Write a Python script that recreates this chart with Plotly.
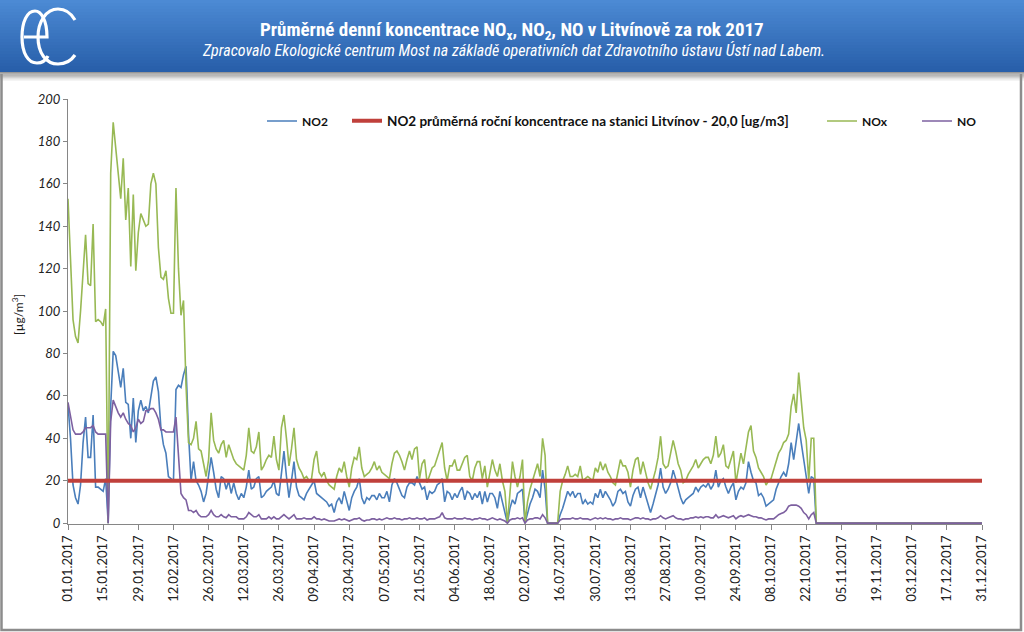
import plotly.graph_objects as go
import pandas as pd

# ---------------- DATA (daily averages 2017, µg/m3) ----------------
DATES = pd.date_range("2017-01-01", "2017-12-31", freq="D")

NOX = [
    153, 125, 96, 88, 85, 100, 120, 136, 113, 112,
    141, 95, 96, 95, 93, 101, 0, 165, 189, 178,
    165, 153, 172, 143, 158, 121, 155, 119, 137, 146,
    143, 140, 141, 160, 165, 160, 130, 116, 115, 119,
    106, 99, 99, 158, 120, 98, 105, 65, 38, 37,
    40, 48, 35, 34, 28, 22, 30, 52, 39, 35,
    33, 37, 39, 31, 37, 33, 30, 28, 27, 26,
    25, 32, 45, 34, 33, 36, 43, 25, 27, 30,
    32, 31, 41, 30, 25, 45, 51, 40, 27, 35,
    45, 30, 26, 24, 21, 22, 20, 21, 30, 34,
    24, 22, 24, 20, 18, 17, 16, 22, 26, 24,
    29, 22, 17, 26, 31, 30, 36, 26, 22, 23,
    24, 26, 29, 25, 27, 24, 23, 22, 21, 28,
    33, 34, 32, 29, 25, 30, 34, 30, 35, 36,
    21, 28, 30, 19, 23, 26, 27, 31, 34, 38,
    26, 20, 27, 27, 30, 25, 25, 28, 31, 32,
    22, 20, 26, 29, 29, 21, 27, 17, 23, 30,
    25, 22, 28, 20, 15, 0, 14, 29, 22, 17,
    22, 30, 0, 10, 16, 20, 25, 28, 22, 40,
    32, 0, 0, 0, 0, 0, 15, 20, 23, 27,
    22, 22, 23, 22, 27, 20, 21, 22, 21, 20,
    26, 24, 29, 25, 28, 24, 22, 19, 18, 24,
    30, 27, 27, 24, 17, 25, 30, 31, 23, 29,
    24, 19, 16, 20, 25, 31, 41, 28, 26, 27,
    33, 39, 34, 28, 25, 19, 20, 23, 25, 27,
    30, 26, 28, 30, 31, 31, 28, 32, 41, 31,
    33, 37, 27, 26, 30, 34, 19, 27, 33, 28,
    36, 43, 46, 34, 31, 26, 24, 22, 18, 20,
    21, 25, 28, 33, 35, 38, 39, 42, 55, 61,
    52, 71, 58, 45, 39, 20, 40, 40, 0, 0,
    0, 0, 0, 0, 0, 0, 0, 0, 0, 0,
    0, 0, 0, 0, 0, 0, 0, 0, 0, 0,
    0, 0, 0, 0, 0, 0, 0, 0, 0, 0,
    0, 0, 0, 0, 0, 0, 0, 0, 0, 0,
    0, 0, 0, 0, 0, 0, 0, 0, 0, 0,
    0, 0, 0, 0, 0, 0, 0, 0, 0, 0,
    0, 0, 0, 0, 0,
]

NO2 = [
    56, 40, 18, 12, 9, 18, 38, 50, 31, 31,
    51, 17, 17, 16, 15, 21, 0, 55, 81, 79,
    72, 64, 73, 57, 56, 40, 59, 38, 53, 58,
    53, 55, 52, 60, 67, 69, 62, 45, 37, 33,
    22, 21, 20, 63, 65, 64, 70, 74, 42, 20,
    29, 20, 18, 15, 10, 14, 24, 31, 24, 16,
    12, 22, 21, 16, 20, 14, 19, 14, 11, 14,
    12, 17, 25, 16, 17, 21, 22, 12, 13, 15,
    16, 17, 20, 14, 13, 25, 34, 22, 12, 20,
    29, 17, 13, 12, 11, 14, 16, 18, 20, 14,
    13, 12, 11, 10, 8, 9, 5, 10, 12, 9,
    15, 11, 6, 12, 15, 17, 21, 12, 9, 12,
    11, 13, 13, 11, 14, 12, 12, 15, 10, 18,
    21, 19, 16, 13, 12, 17, 19, 19, 18, 22,
    19, 16, 17, 11, 15, 14, 15, 18, 19, 21,
    10, 15, 14, 11, 14, 12, 15, 17, 11, 15,
    14, 11, 14, 12, 15, 9, 15, 10, 14, 14,
    12, 7, 15, 10, 5, 0, 7, 11, 9, 14,
    15, 16, 0, 5, 9, 12, 16, 15, 12, 25,
    16, 0, 0, 0, 0, 0, 4, 7, 11, 15,
    13, 15, 12, 14, 14, 9, 11, 9, 10, 9,
    14, 12, 16, 12, 15, 13, 11, 8, 10, 15,
    16, 14, 15, 10, 8, 13, 16, 17, 12, 17,
    13, 9, 5, 9, 13, 18, 26, 17, 14, 16,
    19, 25, 21, 16, 12, 9, 11, 12, 13, 14,
    17, 15, 17, 18, 17, 19, 16, 18, 25, 17,
    20, 21, 17, 14, 17, 19, 11, 15, 17, 16,
    19, 29, 24, 20, 19, 13, 14, 12, 8, 9,
    10, 11, 16, 19, 22, 24, 22, 28, 38, 30,
    38, 47, 38, 31, 22, 14, 22, 21, 0, 0,
    0, 0, 0, 0, 0, 0, 0, 0, 0, 0,
    0, 0, 0, 0, 0, 0, 0, 0, 0, 0,
    0, 0, 0, 0, 0, 0, 0, 0, 0, 0,
    0, 0, 0, 0, 0, 0, 0, 0, 0, 0,
    0, 0, 0, 0, 0, 0, 0, 0, 0, 0,
    0, 0, 0, 0, 0, 0, 0, 0, 0, 0,
    0, 0, 0, 0, 0,
]

NO = [
    57, 50, 44, 42, 42, 42, 43, 45, 45, 45,
    46, 43, 42, 42, 42, 42, 0, 48, 58, 55,
    52, 50, 52, 49, 47, 46, 43, 45, 49, 47,
    48, 53, 53, 54, 54, 52, 49, 44, 44, 43,
    43, 43, 43, 50, 30, 14, 12, 11, 6, 6,
    5, 6, 4, 3, 3, 3, 4, 6, 4, 3,
    3, 4, 3, 2.5, 4, 3, 3, 3, 2, 2,
    2, 3, 5, 4, 3, 3, 4, 2, 2, 2,
    3, 2, 3, 2, 2, 3, 4, 3, 2, 3,
    4, 2, 2, 2, 2.5, 2, 2, 2, 3, 2,
    2, 1.5, 2, 1.5, 1, 1, 1, 1.5, 2, 1.5,
    2, 1.5, 1, 1.5, 2, 2, 2.5, 1.5, 1, 1.5,
    1.5, 2, 2, 1.5, 2, 1.5, 2, 2.5, 2, 2,
    2.5, 2, 2, 1.5, 2, 2, 2.5, 2, 2, 2.5,
    2, 2, 2.5, 1.5, 2, 2, 2, 2.5, 3, 5,
    2.5, 2, 2, 2, 2.5, 2, 2, 2, 2.5, 2,
    2, 1.5, 2, 2, 2.5, 2, 2, 1.5, 2, 2.5,
    2, 1.5, 2, 1.5, 1, 0, 1.5, 2, 2, 2.5,
    2, 2.5, 0, 1.5, 2, 2, 2.5, 2.5, 2, 4,
    2.5, 0, 0, 0, 0, 0, 1.5, 2, 2, 2,
    2, 2.5, 2, 2, 2.5, 2, 2, 2, 1.5, 2,
    2.5, 2, 2.5, 2, 2.5, 2, 2, 1.5, 2, 2,
    2.5, 2, 2, 2, 1.5, 2, 2.5, 2.5, 2, 2.5,
    2, 2, 1.5, 2, 2, 2.5, 3.5, 2.5, 2, 2.5,
    3, 3.5, 2.5, 2, 2, 1.5, 2, 2, 2.5, 2.5,
    3, 2.5, 3, 2.5, 3, 3, 2.5, 2.5, 4, 2.5,
    3, 3.5, 3, 2.5, 3, 3.5, 2, 3, 3.5, 3,
    3.5, 4, 3.5, 3, 3, 2.5, 2.5, 2, 1.5, 2,
    2, 2, 3, 4, 4.5, 5, 6, 8, 8.5, 8.5,
    8.5, 8, 7, 5, 4, 2, 4, 5, 0, 0,
    0, 0, 0, 0, 0, 0, 0, 0, 0, 0,
    0, 0, 0, 0, 0, 0, 0, 0, 0, 0,
    0, 0, 0, 0, 0, 0, 0, 0, 0, 0,
    0, 0, 0, 0, 0, 0, 0, 0, 0, 0,
    0, 0, 0, 0, 0, 0, 0, 0, 0, 0,
    0, 0, 0, 0, 0, 0, 0, 0, 0, 0,
    0, 0, 0, 0, 0,
]

NO2_ANNUAL_LIMIT = 20.0
Y_TICKS = [0, 20, 40, 60, 80, 100, 120, 140, 160, 180, 200]
X_TICK_DATES = pd.date_range("2017-01-01", "2017-12-31", freq="14D")
X_TICK_LABELS = [d.strftime("%d.%m.%Y") for d in X_TICK_DATES]

assert len(NOX) == len(DATES) and len(NO2) == len(DATES) and len(NO) == len(DATES), (len(NOX), len(NO2), len(NO))

TITLE = "Průměrné denní koncentrace NO<sub>x</sub>, NO<sub>2</sub>, NO v Litvínově za rok 2017"
SUBTITLE = "Zpracovalo Ekologické centrum Most na základě operativních dat Zdravotního ústavu Ústí nad Labem."
LIMIT_LABEL = "NO2 průměrná roční koncentrace na stanici Litvínov - 20,0 [ug/m3]"

# ---------------- LAYOUT GEOMETRY ----------------
W, H = 1024, 632
L, R, T, B = 68, 42, 99, 108
PW, PH = W - L - R, H - T - B


def px(x):
    return (x - L) / PW


def py(y):
    return (H - B - y) / PH


BLUE = "#4A7EBB"
GREEN = "#98B954"
PURPLE = "#7D60A0"
RED = "#C0403B"
AXIS = "#868686"
FONT = "Lato, Carlito, sans-serif"
NARROW = "Liberation Sans Narrow, Arial Narrow, Roboto Condensed, sans-serif"

fig = go.Figure()
fig.add_trace(go.Scatter(x=DATES, y=NO2, mode="lines", name="NO2",
                         line=dict(color=BLUE, width=1.6), legend="legend"))
fig.add_trace(go.Scatter(x=DATES, y=NOX, mode="lines", name="NOx",
                         line=dict(color=GREEN, width=1.6), legend="legend3"))
fig.add_trace(go.Scatter(x=DATES, y=NO, mode="lines", name="NO",
                         line=dict(color=PURPLE, width=1.6), legend="legend4"))
fig.add_trace(go.Scatter(x=[DATES[0], DATES[-1]], y=[NO2_ANNUAL_LIMIT, NO2_ANNUAL_LIMIT],
                         mode="lines", name=LIMIT_LABEL,
                         line=dict(color=RED, width=4), legend="legend2"))

shapes = []
# header gradient
top_c = (76, 138, 212)
bot_c = (40, 95, 170)
n = 24
for i in range(n):
    t = i / (n - 1)
    c = tuple(int(top_c[k] + (bot_c[k] - top_c[k]) * t) for k in range(3))
    y0 = i * 72 / n
    y1 = (i + 1) * 72 / n + 0.5
    shapes.append(dict(type="rect", xref="paper", yref="paper",
                       x0=px(0), x1=px(W), y0=py(y0), y1=py(y1),
                       fillcolor="rgb(%d,%d,%d)" % c, line=dict(width=0), layer="below"))
# shadow below header
for i in range(8):
    g = int(150 + (255 - 150) * i / 7)
    shapes.append(dict(type="rect", xref="paper", yref="paper",
                       x0=px(0), x1=px(W), y0=py(72 + i * 1.25), y1=py(72 + (i + 1) * 1.25 + 0.3),
                       fillcolor="rgb(%d,%d,%d)" % (g, g, g), line=dict(width=0), layer="below"))
# frame
shapes.append(dict(type="path", xref="paper", yref="paper",
                   path="M %f,%f L %f,%f L %f,%f L %f,%f" % (px(1.5), py(74), px(1.5), py(630), px(1021), py(630), px(1021), py(74)),
                   line=dict(color="#8c8c8c", width=2.5), layer="below"))


def path_px(cmds):
    out = []
    for c in cmds:
        if isinstance(c, str):
            out.append(c)
        else:
            out.append("%f,%f" % (px(c[0]), py(c[1])))
    return " ".join(out)


# logo (white "ec")
logo_e = path_px(["M", (24, 37), "L", (47, 37), "C", (47, 20), (41, 11), (35, 11), "C", (27, 11), (22, 22), (22, 37),
                  "C", (22, 53), (28, 63), (37, 63), "C", (42, 63), (46, 60), (48, 56)])
logo_c = path_px(["M", (75, 20), "C", (71, 13), (65, 9), (58, 9), "C", (46, 9), (38, 22), (38, 37),
                  "C", (38, 53), (46, 64), (58, 64), "C", (65, 64), (71, 61), (75, 55)])
for p in (logo_e, logo_c):
    shapes.append(dict(type="path", xref="paper", yref="paper", path=p,
                       line=dict(color="white", width=3.2)))

annotations = [
    dict(text="<b>" + TITLE + "</b>", xref="paper", yref="paper", x=px(512), y=py(30.5),
         xanchor="center", yanchor="middle", showarrow=False,
         font=dict(family=NARROW, size=19, color="white")),
    dict(text="<i>" + SUBTITLE + "</i>", xref="paper", yref="paper", x=px(513), y=py(50),
         xanchor="center", yanchor="middle", showarrow=False,
         font=dict(family=NARROW, size=16, color="white")),
    dict(text="[µg/m<sup>3</sup>]", xref="paper", yref="paper", x=px(18), y=py(315),
         xanchor="center", yanchor="middle", showarrow=False, textangle=-90,
         font=dict(family=FONT, size=12, color="#1a1a1a")),
]


def legend_at(xpix, size=12):
    return dict(x=px(xpix), y=py(121), xanchor="left", yanchor="middle",
                bgcolor="rgba(0,0,0,0)", borderwidth=0,
                font=dict(family=FONT, size=size, color="#111111", weight="bold"),
                orientation="h", itemwidth=30)


fig.update_layout(
    width=W, height=H, autosize=False,
    margin=dict(l=L, r=R, t=T, b=B, pad=0),
    paper_bgcolor="white", plot_bgcolor="white",
    showlegend=True,
    legend=legend_at(262),
    legend2=legend_at(347, 13.5),
    legend3=legend_at(822),
    legend4=legend_at(917),
    shapes=shapes,
    annotations=annotations,
    xaxis=dict(type="date", range=[DATES[0], DATES[-1]],
               tickmode="array", tickvals=list(X_TICK_DATES), ticktext=X_TICK_LABELS,
               tickangle=-90, ticks="outside", ticklen=5, tickcolor=AXIS, tickwidth=1,
               showline=True, linecolor=AXIS, linewidth=1.3, showgrid=False, zeroline=False,
               layer="below traces",
               tickfont=dict(family=FONT, size=13, color="#222222")),
    yaxis=dict(range=[-0.4, 200], tickmode="array", tickvals=Y_TICKS,
               ticks="outside", ticklen=4, tickcolor=AXIS, tickwidth=1,
               showline=True, linecolor=AXIS, linewidth=1.3, showgrid=False, zeroline=False,
               layer="below traces",
               tickfont=dict(family=FONT, size=13, color="#222222", style="italic")),
)

fig.write_html("out.html", config={"displayModeBar": False},
               post_script="document.body.style.margin='0';document.body.style.padding='0';")
